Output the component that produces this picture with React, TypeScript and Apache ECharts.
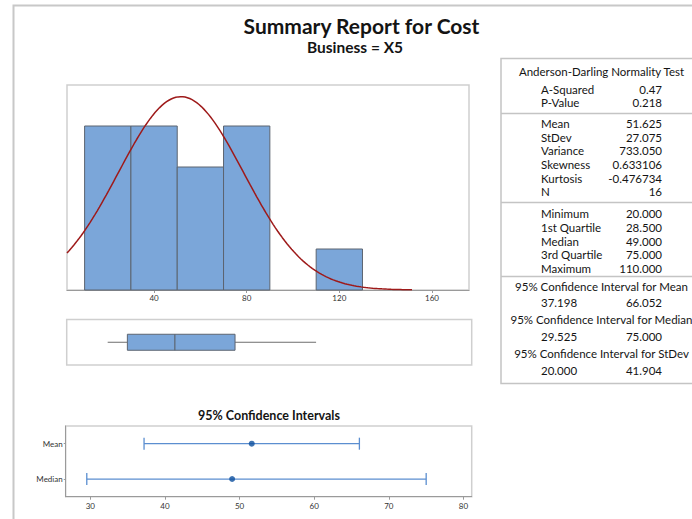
import React, { useEffect, useRef } from "react";
import * as echarts from "echarts";

// ---------- data ----------
const binEdges = [10, 30, 50, 70, 90, 110, 130];
const binCounts = [4, 4, 3, 4, 0, 1];
const histTicks = [40, 80, 120, 160];
const boxStats = [20, 28.5, 49, 75, 110]; // min, Q1, median, Q3, max
const ciCategories = ["Mean", "Median"];
const ciLower = [37.198, 29.525];
const ciCenter = [51.625, 49.0];
const ciUpper = [66.052, 75.0];
const ciTicks = [30, 40, 50, 60, 70, 80];
const sampleN = 16;
const sampleMean = 51.625;
const sampleStDev = 27.075;
const curveRange = [2.4, 152];

const adRows = [
  ["A-Squared", "0.47"],
  ["P-Value", "0.218"],
];
const momentRows = [
  ["Mean", "51.625"],
  ["StDev", "27.075"],
  ["Variance", "733.050"],
  ["Skewness", "0.633106"],
  ["Kurtosis", "-0.476734"],
  ["N", "16"],
];
const quantRows = [
  ["Minimum", "20.000"],
  ["1st Quartile", "28.500"],
  ["Median", "49.000"],
  ["3rd Quartile", "75.000"],
  ["Maximum", "110.000"],
];
const ciRows = [
  ["95% Confidence Interval for Mean", "37.198", "66.052"],
  ["95% Confidence Interval for Median", "29.525", "75.000"],
  ["95% Confidence Interval for StDev", "20.000", "41.904"],
];

const FONT = "Lato, 'Noto Sans', sans-serif";

function buildCurve() {
  const binWidth = binEdges[1] - binEdges[0];
  const pts: number[][] = [];
  for (let x = curveRange[0]; x <= curveRange[1]; x += 1) {
    const z = (x - sampleMean) / sampleStDev;
    const pdf = Math.exp(-0.5 * z * z) / (sampleStDev * Math.sqrt(2 * Math.PI));
    pts.push([x, sampleN * binWidth * pdf]);
  }
  return pts;
}

function txt(text: string, x: number, y: number, size: number, align = "left", weight: any = "normal") {
  return {
    type: "text",
    x,
    y,
    silent: true,
    style: {
      text,
      fontSize: size,
      fontFamily: FONT,
      fontWeight: weight,
      fill: "#141414",
      align,
      verticalAlign: "middle",
      textAlign: align,
      textVerticalAlign: "middle",
    },
  };
}

function hline(x1: number, x2: number, y: number) {
  return {
    type: "line",
    silent: true,
    shape: { x1, y1: y, x2, y2: y },
    style: { stroke: "#c4c4c4", lineWidth: 1.5 },
  };
}

export default function App() {
  const ref = useRef<HTMLDivElement>(null);

  useEffect(() => {
    if (!ref.current) return;
    const chart = echarts.init(ref.current, null, { renderer: "svg" });

    const graphics: any[] = [];
    // page frame
    graphics.push({
      type: "rect",
      silent: true,
      shape: { x: 13.5, y: 5.5, width: 720, height: 600 },
      style: { fill: "none", stroke: "#c8c8c8", lineWidth: 2 },
    });
    // titles
    graphics.push(txt("Summary Report for Cost", 361.5, 25, 21, "center", "bold"));
    graphics.push(txt("Business = X5", 355, 47, 15.5, "center", "bold"));
    graphics.push(txt("95% Confidence Intervals", 269, 415, 12.5, "center", "bold"));

    // table
    graphics.push({
      type: "rect",
      silent: true,
      shape: { x: 501, y: 58.5, width: 240, height: 325 },
      style: { fill: "none", stroke: "#c4c4c4", lineWidth: 1.5 },
    });
    graphics.push(hline(501, 692, 113.5));
    graphics.push(hline(501, 692, 202.5));
    graphics.push(hline(501, 692, 276.5));

    const labX = 541;
    const valX = 662;
    const fs = 11.5;
    graphics.push(txt("Anderson-Darling Normality Test", 601.5, 71.5, fs, "center"));
    adRows.forEach((r, i) => {
      graphics.push(txt(r[0], labX, 89.5 + i * 12.5, fs));
      graphics.push(txt(r[1], valX, 89.5 + i * 12.5, fs, "right"));
    });
    momentRows.forEach((r, i) => {
      graphics.push(txt(r[0], labX, 123.5 + i * 13.65, fs));
      graphics.push(txt(r[1], valX, 123.5 + i * 13.65, fs, "right"));
    });
    quantRows.forEach((r, i) => {
      graphics.push(txt(r[0], labX, 213.5 + i * 13.75, fs));
      graphics.push(txt(r[1], valX, 213.5 + i * 13.75, fs, "right"));
    });
    ciRows.forEach((r, i) => {
      const y0 = 286 + i * 33.8;
      graphics.push(txt(r[0], 601.5, y0, fs, "center"));
      graphics.push(txt(r[1], labX, y0 + 16.5, fs));
      graphics.push(txt(r[2], valX, y0 + 16.5, fs, "right"));
    });

    const axisGray = "#9a9a9a";
    const barFill = "#7ba6d9";
    const barStroke = "#5c6470";

    const option: any = {
      animation: false,
      backgroundColor: "#ffffff",
      grid: [
        { left: 67, top: 85, width: 402, height: 205, show: true, borderColor: "#cfcfcf", borderWidth: 1.5 },
        { left: 66.7, top: 319.5, width: 405, height: 45.5, show: true, borderColor: "#cfcfcf", borderWidth: 1.5 },
        { left: 65.7, top: 426, width: 406, height: 70.7, show: true, borderColor: "#cfcfcf", borderWidth: 1.5 },
      ],
      xAxis: [
        {
          type: "value",
          gridIndex: 0,
          min: 2.4,
          max: 176,
          splitLine: { show: false },
          axisLine: { show: true, lineStyle: { color: axisGray, width: 1 } },
          axisTick: { show: true, customValues: histTicks, length: 3, lineStyle: { color: axisGray } },
          axisLabel: { customValues: histTicks, fontSize: 8, color: "#333", margin: 4, fontFamily: FONT },
        },
        {
          type: "value",
          gridIndex: 1,
          min: 2.3,
          max: 177.2,
          show: false,
        },
        {
          type: "value",
          gridIndex: 2,
          min: 26.7,
          max: 81.1,
          splitLine: { show: false },
          axisLine: { show: true, lineStyle: { color: axisGray, width: 1 } },
          axisTick: { show: true, customValues: ciTicks, length: 3, lineStyle: { color: axisGray } },
          axisLabel: { customValues: ciTicks, fontSize: 8, color: "#333", margin: 5, fontFamily: FONT },
        },
      ],
      yAxis: [
        { type: "value", gridIndex: 0, min: 0, max: 5, show: false },
        { type: "value", gridIndex: 1, min: -1, max: 1, show: false },
        {
          type: "category",
          gridIndex: 2,
          data: ciCategories,
          inverse: true,
          axisLine: { show: true, lineStyle: { color: axisGray, width: 1 } },
          axisTick: { show: true, alignWithLabel: true, length: 2, lineStyle: { color: axisGray } },
          axisLabel: { fontSize: 8, color: "#333", margin: 3, fontFamily: FONT },
          splitLine: { show: false },
        },
      ],
      series: [
        {
          type: "custom",
          xAxisIndex: 0,
          yAxisIndex: 0,
          data: binCounts.map((c, i) => [binEdges[i], binEdges[i + 1], c]),
          encode: { x: [0, 1], y: 2 },
          renderItem: (params: any, api: any) => {
            const h = api.value(2);
            if (!h) return null;
            const s = api.coord([api.value(0), h]);
            const e = api.coord([api.value(1), 0]);
            return {
              type: "rect",
              shape: { x: s[0], y: s[1], width: e[0] - s[0], height: e[1] - s[1] },
              style: { fill: barFill, stroke: barStroke, lineWidth: 1 },
            };
          },
          z: 2,
        },
        {
          type: "line",
          xAxisIndex: 0,
          yAxisIndex: 0,
          data: buildCurve(),
          showSymbol: false,
          symbol: "none",
          lineStyle: { color: "#9e1a1a", width: 1.5 },
          z: 3,
        },
        {
          type: "custom",
          xAxisIndex: 1,
          yAxisIndex: 1,
          data: [[...boxStats, 0]],
          encode: { x: [0, 1, 2, 3, 4], y: 5 },
          renderItem: (params: any, api: any) => {
            const yv = api.value(5);
            const pMin = api.coord([api.value(0), yv]);
            const pQ1 = api.coord([api.value(1), yv]);
            const pMed = api.coord([api.value(2), yv]);
            const pQ3 = api.coord([api.value(3), yv]);
            const pMax = api.coord([api.value(4), yv]);
            const half = 8;
            const y = pMin[1];
            const lineStyle = { stroke: "#6e6e6e", lineWidth: 1 };
            return {
              type: "group",
              children: [
                { type: "line", shape: { x1: pMin[0], y1: y, x2: pQ1[0], y2: y }, style: lineStyle },
                { type: "line", shape: { x1: pQ3[0], y1: y, x2: pMax[0], y2: y }, style: lineStyle },
                {
                  type: "rect",
                  shape: { x: pQ1[0], y: y - half, width: pQ3[0] - pQ1[0], height: half * 2 },
                  style: { fill: barFill, stroke: barStroke, lineWidth: 1 },
                },
                {
                  type: "line",
                  shape: { x1: pMed[0], y1: y - half, x2: pMed[0], y2: y + half },
                  style: { stroke: barStroke, lineWidth: 1.2 },
                },
              ],
            };
          },
        },
        {
          type: "custom",
          xAxisIndex: 2,
          yAxisIndex: 2,
          data: ciCategories.map((c, i) => [i, ciLower[i], ciUpper[i]]),
          encode: { x: [1, 2], y: 0 },
          renderItem: (params: any, api: any) => {
            const lo = api.coord([api.value(1), api.value(0)]);
            const hi = api.coord([api.value(2), api.value(0)]);
            const cap = 6;
            const st = { stroke: "#5b8ed0", lineWidth: 1.3 };
            return {
              type: "group",
              children: [
                { type: "line", shape: { x1: lo[0], y1: lo[1], x2: hi[0], y2: hi[1] }, style: st },
                { type: "line", shape: { x1: lo[0], y1: lo[1] - cap, x2: lo[0], y2: lo[1] + cap }, style: st },
                { type: "line", shape: { x1: hi[0], y1: hi[1] - cap, x2: hi[0], y2: hi[1] + cap }, style: st },
              ],
            };
          },
        },
        {
          type: "scatter",
          xAxisIndex: 2,
          yAxisIndex: 2,
          data: ciCategories.map((c, i) => [ciCenter[i], c]),
          symbol: "circle",
          symbolSize: 6,
          itemStyle: { color: "#0d4f9e" },
          z: 5,
        },
      ],
      graphic: graphics,
    };

    chart.setOption(option);
    return () => chart.dispose();
  }, []);

  return (
    <div
      ref={ref}
      style={{ position: "absolute", left: 0, top: 0, width: 692, height: 519 }}
    />
  );
}
